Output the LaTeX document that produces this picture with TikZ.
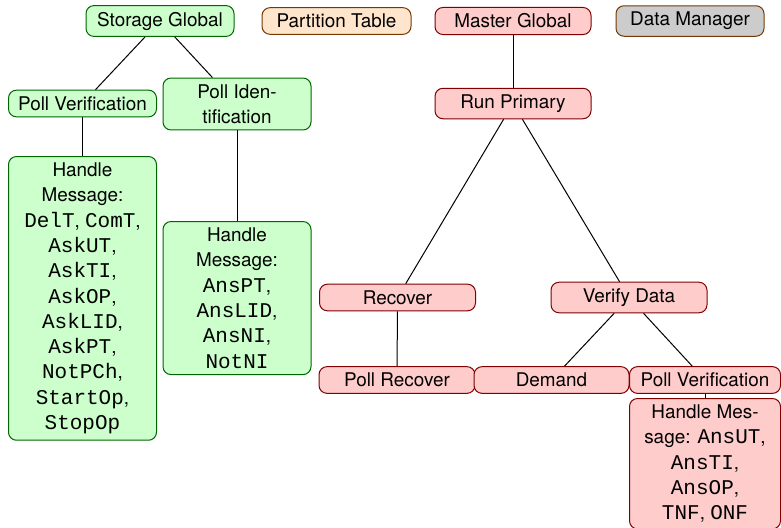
\documentclass[tikz,border=0pt]{standalone}
\usepackage{fontspec}
\setmainfont{TeX Gyre Heros}
\setsansfont{TeX Gyre Heros}
\setmonofont[Scale=1.11]{Liberation Mono}
\begin{document}
\begin{tikzpicture}[x=0.5pt,y=-0.5pt,
  box/.style={rounded corners=4pt, line width=0.5pt, align=center,
    font=\fontsize{9.45}{12.65}\selectfont, inner sep=3.15pt},
  gbox/.style={box, draw=green!40!black, fill=green!20, minimum width=74pt},
  rbox/.style={box, draw=red!50!black, fill=red!20, minimum width=78pt},
  obox/.style={box, draw=orange!45!black, fill=orange!20, minimum width=74.5pt},
  dbox/.style={box, draw=orange!45!black, fill=black!20, minimum width=74pt},
  link/.style={line width=0.5pt, draw=black}]
\useasboundingbox (0,0) rectangle (781,527);

% header row
\node[gbox] (sg) at (160,21) {Storage Global};
\node[obox] (pt) at (336.5,21) {Partition Table};
\node[rbox] (mg) at (513,21) {Master Global};
\node[dbox] (dm) at (690,21) {Data Manager};

% storage side
\node[gbox] (pv1) at (82.5,103.5) {Poll Verification};
\node[gbox] (pid) at (237,104) {Poll Iden-\\tification};
\node[gbox, anchor=north] (hm1) at (82.5,156) {Handle\\Message:\\
  \texttt{DelT}, \texttt{ComT},\\ \texttt{AskUT},\\ \texttt{AskTI},\\
  \texttt{AskOP},\\ \texttt{AskLID},\\ \texttt{AskPT},\\ \texttt{NotPCh},\\
  \texttt{StartOp},\\ \texttt{StopOp}};
\node[gbox, anchor=north] (hm2) at (237,221) {Handle\\Message:\\
  \texttt{AnsPT},\\ \texttt{AnsLID},\\ \texttt{AnsNI},\\ \texttt{NotNI}};

% master side
\node[rbox] (rp) at (513,103.5) {Run Primary};
\node[rbox] (rec) at (397.5,297.5) {Recover};
\node[rbox] (vd) at (629,297.5) {Verify Data};
\node[rbox] (pr) at (397,380) {Poll Recover};
\node[rbox, minimum width=77.5pt] (dem) at (551.5,380) {Demand};
\node[rbox, minimum width=75.5pt] (pv2) at (705,380) {Poll Verification};
\node[rbox, minimum width=75.5pt, anchor=north] (hm3) at (705,398)
  {Handle Mes-\\sage: \texttt{AnsUT},\\ \texttt{AnsTI},\\ \texttt{AnsOP},\\
  \texttt{TNF}, \texttt{ONF}};

% tree edges
\draw[link] (sg) -- (pv1);
\draw[link] (sg) -- (pid);
\draw[link] (pv1) -- (hm1);
\draw[link] (pid) -- (hm2);
\draw[link] (mg) -- (rp);
\draw[link] (rp) -- (rec);
\draw[link] (rp) -- (vd);
\draw[link] (rec) -- (pr);
\draw[link] (vd) -- (dem);
\draw[link] (vd) -- (pv2);
\draw[link] (pv2) -- (hm3);
\end{tikzpicture}
\end{document}
